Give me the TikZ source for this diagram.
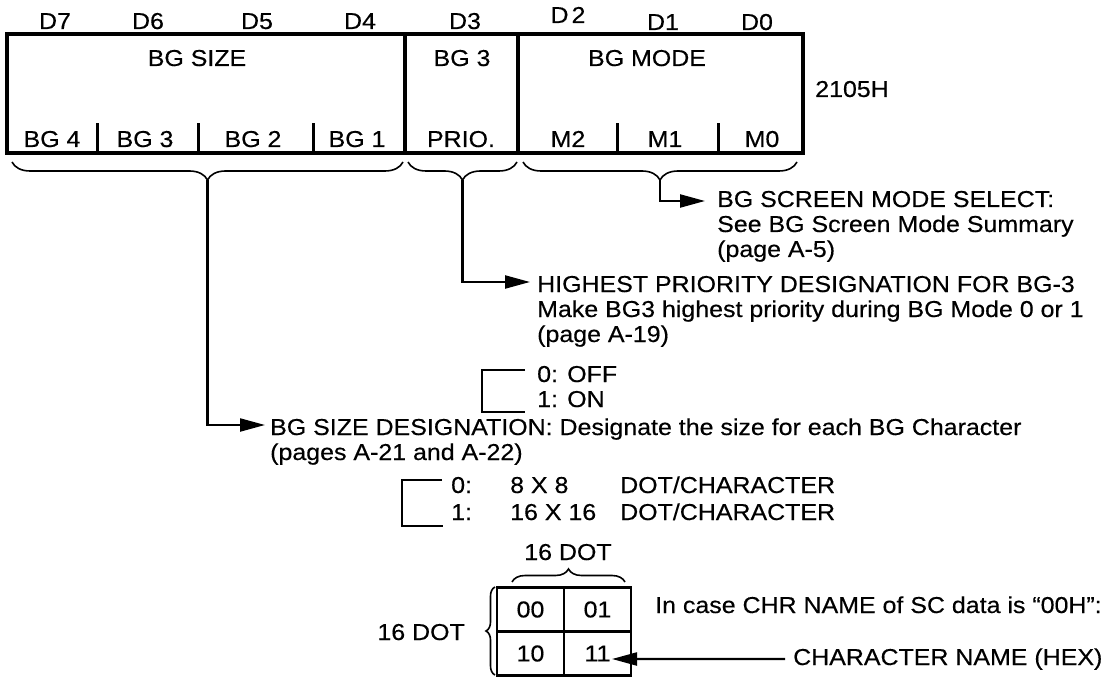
\documentclass[tikz,border=0pt]{standalone}
\usepackage{fontspec}
\setmainfont{Liberation Sans}[FakeStretch=1.085,FakeBold=0.4]
\usetikzlibrary{arrows.meta,decorations.pathreplacing}
\begin{document}
\begin{tikzpicture}[x=1pt,y=-1pt,
  font=\fontsize{23}{25}\selectfont,
  every node/.style={inner sep=0pt},
  txt/.style={anchor=base west},
  ctr/.style={anchor=base},
  field/.style={draw, line width=3.5pt, minimum height=119pt},
  div/.style={line width=3pt},
  brc/.style={decorate, decoration={brace, amplitude=18pt, mirror}, line width=1.6pt},
  gbrc/.style={decorate, decoration={brace, amplitude=#1}, line width=1.6pt},
  conn/.style={line width=2.2pt, -{Triangle[length=25pt,width=13pt]}},
  brk/.style={line width=2.2pt},
  cell/.style={draw, line width=2.2pt, minimum width=67pt, minimum height=44pt}]
\useasboundingbox (0,0) rectangle (1109,679);

% register fields
\node[field, minimum width=398pt] (fsize) at (206,93.5) {};
\node[field, minimum width=113pt] (fprio) at (461.5,93.5) {};
\node[field, minimum width=285pt] (fmode) at (660.5,93.5) {};
\draw[div] (97,153) -- (97,123);
\draw[div] (198,153) -- (198,123);
\draw[div] (313,153) -- (313,123);
\draw[div] (617,153) -- (617,123);
\draw[div] (718,153) -- (718,123);

% bit numbers
\node[ctr] (d7) at (55,29) {D7};
\node[ctr] (d6) at (148,29) {D6};
\node[ctr] (d5) at (257,29) {D5};
\node[ctr] (d4) at (360,29) {D4};
\node[ctr] (d3) at (465,29) {D3};
\node[ctr] (d2) at (568,23) {D\kern3pt 2};
\node[ctr] (d1) at (663,30) {D1};
\node[ctr] (d0) at (757,30) {D0};

% field labels
\node[ctr] (tsize) at (197,66) {BG SIZE};
\node[ctr] (tprio) at (462,66) {BG 3};
\node[ctr] (tmode) at (647,66) {BG MODE};
\node[ctr] (bg4) at (52,147) {BG 4};
\node[ctr] (bg3) at (145,147) {BG 3};
\node[ctr] (bg2) at (253,147) {BG 2};
\node[ctr] (bg1) at (357,147) {BG 1};
\node[ctr] (prio) at (461,147) {PRIO.};
\node[ctr] (m2) at (568,147) {M2};
\node[ctr] (m1) at (665,147) {M1};
\node[ctr] (m0) at (762,147) {M0};
\node[ctr] (addr) at (852,97) {2105H};

% braces under the register
\draw[brc] (12,162) -- (403,162);
\draw[brc] (408,162) -- (517,162);
\draw[brc] (523,162) -- (797,162);
\coordinate (sizetip) at (207.5,180);
\coordinate (priotip) at (462.5,180);
\coordinate (modetip) at (660,180);

% BG mode text
\node[txt] (mode1) at (717,207) {BG SCREEN MODE SELECT:};
\node[txt] (mode2) at (717,232) {See BG Screen Mode Summary};
\node[txt] (mode3) at (717,257) {(page A-5)};

% priority text
\node[txt] (prio1) at (537,292) {HIGHEST PRIORITY DESIGNATION FOR BG-3};
\node[txt] (prio2) at (537,317) {Make BG3 highest priority during BG Mode 0 or 1};
\node[txt] (prio3) at (537,342) {(page A-19)};
\draw[brk] (525,370) -- (482,370) -- (482,412) -- (525,412);
\node[txt] (off) at (537,382) {0: OFF};
\node[txt] (on) at (537,407) {1: ON};

% size text
\node[txt] (size1) at (270,435) {BG SIZE DESIGNATION: Designate the size for each BG Character};
\node[txt] (size2) at (270,460) {(pages A-21 and A-22)};
\draw[brk] (442,480) -- (402,480) -- (402,526) -- (443,526);
\node[txt] (s0a) at (451,493) {0:};
\node[txt] (s0b) at (510,493) {8 X 8};
\node[txt] (s0c) at (620,493) {DOT/CHARACTER};
\node[txt] (s1a) at (451,520) {1:};
\node[txt] (s1b) at (510,520) {16 X 16};
\node[txt] (s1c) at (620,520) {DOT/CHARACTER};

% connectors
\draw[conn] (modetip) |- ([xshift=-12pt,yshift=6pt]mode1.base west);
\draw[conn] (priotip) |- ([xshift=-7pt,yshift=10pt]prio1.base west);
\draw[conn] (sizetip) |- ([xshift=-5pt,yshift=10pt]size1.base west);

% character grid
\node[cell] (c00) at (530.5,609.5) {00};
\node[cell] (c01) at (597.5,609.5) {01};
\node[cell] (c10) at (530.5,653.5) {10};
\node[cell] (c11) at (597.5,653.5) {11};
\draw[gbrc=13pt] (512,582) -- (625,582);
\draw[gbrc=9pt] (495,675) -- (495,587);
\node[ctr] (dottop) at (568,560) {16 DOT};
\node[anchor=base east] (dotleft) at (465,640) {16 DOT};
\node[txt] (incase) at (655,613) {In case CHR NAME of SC data is “00H”:};
\node[txt] (chname) at (793,665) {CHARACTER NAME (HEX)};
\coordinate (c11tip) at (612,659);
\draw[conn] ([xshift=-8pt]chname.west) -- (c11tip);
\end{tikzpicture}
\end{document}
